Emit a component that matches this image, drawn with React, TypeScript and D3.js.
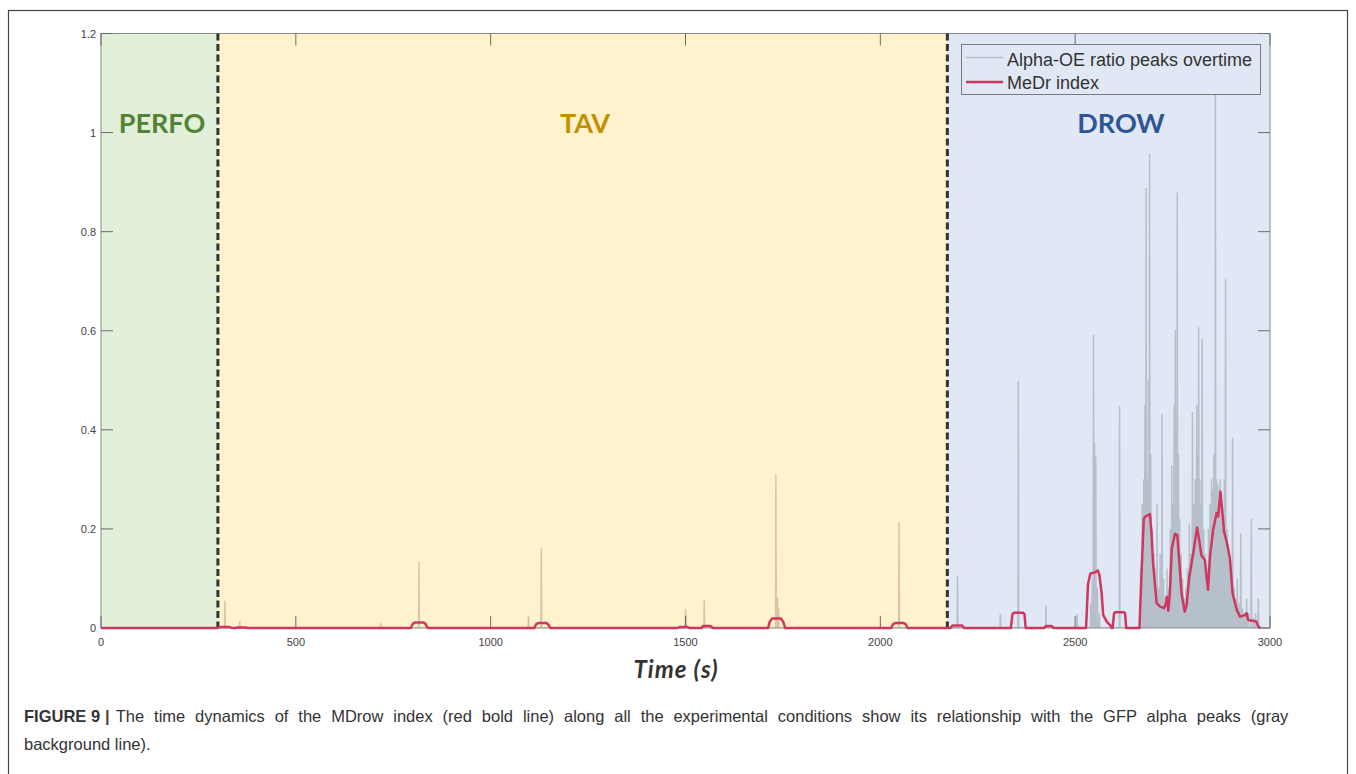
import React from "react";
import * as d3 from "d3";

// ---------- data ----------
const xTicks = [0, 500, 1000, 1500, 2000, 2500, 3000];
const yTicks = [0, 0.2, 0.4, 0.6, 0.8, 1, 1.2];
const yTickLabels = ["0", "0.2", "0.4", "0.6", "0.8", "1", "1.2"];

const conditions = ["PERFO", "TAV", "DROW"];
const conditionStart = [0, 300, 2172];
const conditionEnd = [300, 2172, 3000];

// Alpha-OE ratio peaks: [time (s), value]
const alphaPeaks: [number, number][] = [
  [318, 0.055], [356, 0.014], [718, 0.01], [816, 0.134], [1097, 0.025], [1130, 0.162],
  [1500, 0.038], [1502, 0.025], [1548, 0.057], [1732, 0.31], [1736, 0.062], [1739, 0.04],
  [2048, 0.214], [2198, 0.106], [2308, 0.028], [2354, 0.499], [2425, 0.045], [2505, 0.028],
  [2540, 0.05], [2544, 0.1], [2547, 0.592], [2550, 0.374], [2553, 0.345], [2557, 0.08], [2562, 0.03],
  [2614, 0.448],
  [2668, 0.12], [2672, 0.25], [2676, 0.3], [2679, 0.45], [2682, 0.888], [2685, 0.3], [2688, 0.5],
  [2691, 0.958], [2694, 0.35], [2698, 0.2], [2702, 0.15], [2706, 0.12], [2710, 0.25], [2714, 0.08],
  [2718, 0.15], [2723, 0.432], [2727, 0.1], [2731, 0.06], [2736, 0.12], [2740, 0.08], [2744, 0.2],
  [2748, 0.329], [2751, 0.25], [2754, 0.45], [2757, 0.602], [2760, 0.4], [2762, 0.879], [2765, 0.35],
  [2768, 0.22], [2772, 0.15], [2776, 0.1], [2780, 0.06], [2784, 0.08], [2788, 0.12], [2793, 0.211],
  [2797, 0.15], [2801, 0.436], [2805, 0.25], [2808, 0.3], [2812, 0.45], [2815, 0.35], [2817, 0.607],
  [2820, 0.3], [2823, 0.25], [2826, 0.584], [2830, 0.2], [2834, 0.15], [2838, 0.12], [2842, 0.2],
  [2846, 0.25], [2850, 0.3], [2853, 0.28], [2856, 0.35], [2860, 1.1], [2863, 0.3], [2866, 0.29],
  [2869, 0.28], [2872, 0.3], [2876, 0.25], [2880, 0.22], [2883, 0.3], [2886, 0.704], [2890, 0.2],
  [2894, 0.15], [2898, 0.12], [2901, 0.1], [2904, 0.384], [2908, 0.08], [2912, 0.06], [2916, 0.1],
  [2920, 0.05], [2925, 0.191], [2930, 0.04], [2935, 0.03], [2940, 0.059], [2945, 0.03], [2952, 0.22],
  [2958, 0.02], [2963, 0.03], [2970, 0.06],
];

// MeDr index: [time (s), value]
const medr: [number, number][] = [
  [0, 0], [300, 0], [305, 0.002], [330, 0.002], [335, 0], [345, 0], [350, 0.001], [370, 0.001], [375, 0],
  [795, 0], [800, 0.008], [805, 0.011], [828, 0.011], [833, 0.008], [838, 0],
  [1112, 0], [1117, 0.008], [1122, 0.01], [1143, 0.01], [1148, 0.007], [1153, 0],
  [1480, 0], [1485, 0.002], [1505, 0.002], [1510, 0],
  [1540, 0], [1545, 0.004], [1565, 0.004], [1570, 0],
  [1712, 0], [1716, 0.012], [1722, 0.019], [1745, 0.019], [1751, 0.012], [1756, 0],
  [2028, 0], [2033, 0.008], [2038, 0.01], [2060, 0.01], [2065, 0.008], [2070, 0],
  [2180, 0], [2185, 0.005], [2210, 0.005], [2215, 0],
  [2335, 0], [2339, 0.028], [2343, 0.031], [2366, 0.031], [2370, 0.028], [2373, 0],
  [2420, 0], [2425, 0.004], [2440, 0.004], [2445, 0],
  [2528, 0], [2533, 0.089], [2539, 0.11], [2550, 0.112], [2558, 0.116], [2562, 0.108], [2568, 0.07],
  [2572, 0.026], [2581, 0.013], [2589, 0.006], [2594, 0],
  [2596, 0], [2600, 0.03], [2604, 0.032], [2624, 0.032], [2628, 0.03], [2631, 0],
  [2665, 0], [2670, 0.104], [2676, 0.22], [2680, 0.225], [2692, 0.23], [2696, 0.19], [2700, 0.13],
  [2709, 0.05], [2718, 0.043], [2728, 0.04], [2733, 0.05], [2735, 0.063], [2739, 0.035], [2743, 0.07],
  [2748, 0.16], [2756, 0.19], [2762, 0.188], [2767, 0.137], [2773, 0.07], [2781, 0.033], [2786, 0.046],
  [2793, 0.104], [2803, 0.151], [2813, 0.203], [2818, 0.178], [2824, 0.147], [2833, 0.137], [2837, 0.104],
  [2841, 0.077], [2846, 0.144], [2854, 0.198], [2863, 0.232], [2867, 0.225], [2873, 0.275], [2878, 0.232],
  [2882, 0.195], [2889, 0.174], [2897, 0.141], [2904, 0.07], [2915, 0.036], [2923, 0.023], [2936, 0.026],
  [2940, 0.03], [2944, 0.016], [2965, 0.013], [2970, 0.003], [2975, 0],
];

const legendLabels = ["Alpha-OE ratio peaks overtime", "MeDr index"];
const xLabel = "Time (s)";
const captionBold = "FIGURE 9";
const captionLine1 =
  "The time dynamics of the MDrow index (red bold line) along all the experimental conditions show its relationship with the GFP alpha peaks (gray";
const captionLine2 = "background line).";

// ---------- styles ----------
const W = 1356;
const H = 774;
const M = { left: 101, right: 1270, top: 33.5, bottom: 628 };
const bgColors = ["#e2f0d9", "#fff2cc", "#dfe8f4"];
const peakColors = ["#c8c8c0", "#d6c7a2", "#b6c0cb"];
const labelColors = ["#548235", "#bf9000", "#2f5597"];
const labelX = [162, 585, 1121];
const RED = "#d0375f";

export default function App() {
  const x = d3.scaleLinear().domain([0, 3000]).range([M.left, M.right]);
  const y = d3.scaleLinear().domain([0, 1.2]).range([M.bottom, M.top]);

  // gray spike trace: baseline between the peaks
  const grayPts: [number, number][] = [[0, 0]];
  alphaPeaks.forEach(([t, v]) => {
    grayPts.push([t - 1.0, 0], [t, v], [t + 1.0, 0]);
  });
  grayPts.push([3000, 0]);

  const line = d3
    .line<[number, number]>()
    .x((d) => x(d[0]))
    .y((d) => y(d[1]));

  const tickLen = 12;
  const font = "'Liberation Sans', Arial, Helvetica, sans-serif";
  const grayD = line(grayPts) || "";

  return (
    <svg
      width={W}
      height={H}
      style={{ position: "absolute", left: 0, top: 0, display: "block", background: "#fff" }}
    >
      {/* outer frame */}
      <rect x={8.5} y={10.5} width={1339} height={780} fill="none" stroke="#444" strokeWidth={1.2} />

      <defs>
        {conditions.map((c, i) => (
          <clipPath id={"clip" + i} key={c}>
            <rect
              x={x(conditionStart[i])}
              y={M.top}
              width={x(conditionEnd[i]) - x(conditionStart[i])}
              height={M.bottom - M.top}
            />
          </clipPath>
        ))}
      </defs>

      {/* condition backgrounds */}
      {conditions.map((c, i) => (
        <rect
          key={c}
          x={x(conditionStart[i])}
          y={M.top}
          width={x(conditionEnd[i]) - x(conditionStart[i])}
          height={M.bottom - M.top}
          fill={bgColors[i]}
        />
      ))}

      {/* gray peaks, tinted by the background they sit on */}
      {conditions.map((c, i) => (
        <g key={"g" + c} clipPath={`url(#clip${i})`}>
          <path d={grayD} fill="none" stroke={peakColors[i]} strokeWidth={1.5} />
        </g>
      ))}

      {/* condition labels */}
      {conditions.map((c, i) => (
        <text
          key={c}
          x={labelX[i]}
          y={133}
          textAnchor="middle"
          fontFamily="Lato, 'Open Sans', sans-serif"
          fontWeight={700}
          fontSize={27}
          fill={labelColors[i]}
        >
          {c}
        </text>
      ))}

      {/* axis box */}
      <rect
        x={M.left}
        y={M.top}
        width={M.right - M.left}
        height={M.bottom - M.top}
        fill="none"
        stroke="#8a8a8a"
        strokeWidth={1}
      />

      {/* ticks */}
      {xTicks.map((t) => (
        <g key={"xt" + t}>
          <line x1={x(t)} x2={x(t)} y1={M.bottom} y2={M.bottom - tickLen} stroke="#6b6b6b" strokeWidth={1} />
          <line x1={x(t)} x2={x(t)} y1={M.top} y2={M.top + tickLen} stroke="#6b6b6b" strokeWidth={1} />
          <text
            x={x(t)}
            y={M.bottom + 18}
            textAnchor="middle"
            fontFamily={font}
            fontSize={11}
            fill="#444"
          >
            {t}
          </text>
        </g>
      ))}
      {yTicks.map((t, i) => (
        <g key={"yt" + t}>
          <line x1={M.left} x2={M.left + tickLen} y1={y(t)} y2={y(t)} stroke="#6b6b6b" strokeWidth={1} />
          <line x1={M.right} x2={M.right - tickLen} y1={y(t)} y2={y(t)} stroke="#6b6b6b" strokeWidth={1} />
          <text
            x={M.left - 5}
            y={y(t) + 4}
            textAnchor="end"
            fontFamily={font}
            fontSize={11}
            fill="#444"
          >
            {yTickLabels[i]}
          </text>
        </g>
      ))}

      {/* condition boundaries */}
      {[conditionStart[1], conditionStart[2]].map((t) => (
        <line
          key={"b" + t}
          x1={x(t)}
          x2={x(t)}
          y1={M.top}
          y2={M.bottom}
          stroke="#333"
          strokeWidth={3}
          strokeDasharray="7,3.5"
        />
      ))}

      {/* MeDr index */}
      <path d={line(medr) || ""} fill="none" stroke={RED} strokeWidth={2.5} strokeLinejoin="round" />

      {/* legend */}
      <g>
        <rect x={961.5} y={44.5} width={299} height={50} fill={bgColors[2]} stroke="#7a7a7a" strokeWidth={1} />
        <line x1={966} x2={1003} y1={57.5} y2={57.5} stroke="#b6c0cb" strokeWidth={1.6} />
        <line x1={966} x2={1003} y1={82} y2={82} stroke={RED} strokeWidth={2.5} />
        <text x={1007} y={65.5} fontFamily={font} fontSize={18} fill="#333">
          {legendLabels[0]}
        </text>
        <text x={1007} y={89} fontFamily={font} fontSize={18} fill="#333">
          {legendLabels[1]}
        </text>
      </g>

      {/* x label */}
      <text
        x={676}
        y={678}
        textAnchor="middle"
        fontFamily="Lato, 'Open Sans', sans-serif"
        fontWeight={700}
        fontStyle="italic"
        fontSize={24}
        letterSpacing={1}
        fill="#333"
      >
        {xLabel}
      </text>

      {/* caption */}
      <text x={24} y={722} fontFamily={font} fontSize={16.5} fill="#333">
        <tspan fontWeight={700} fill="#333">
          {captionBold}
        </tspan>
        <tspan dx={5} fill="#444" fontWeight={700}>|</tspan>
        <tspan dx={6} wordSpacing={5.3}>{captionLine1}</tspan>
      </text>
      <text x={24} y={750} fontFamily={font} fontSize={16.5} fill="#333">
        {captionLine2}
      </text>
    </svg>
  );
}
